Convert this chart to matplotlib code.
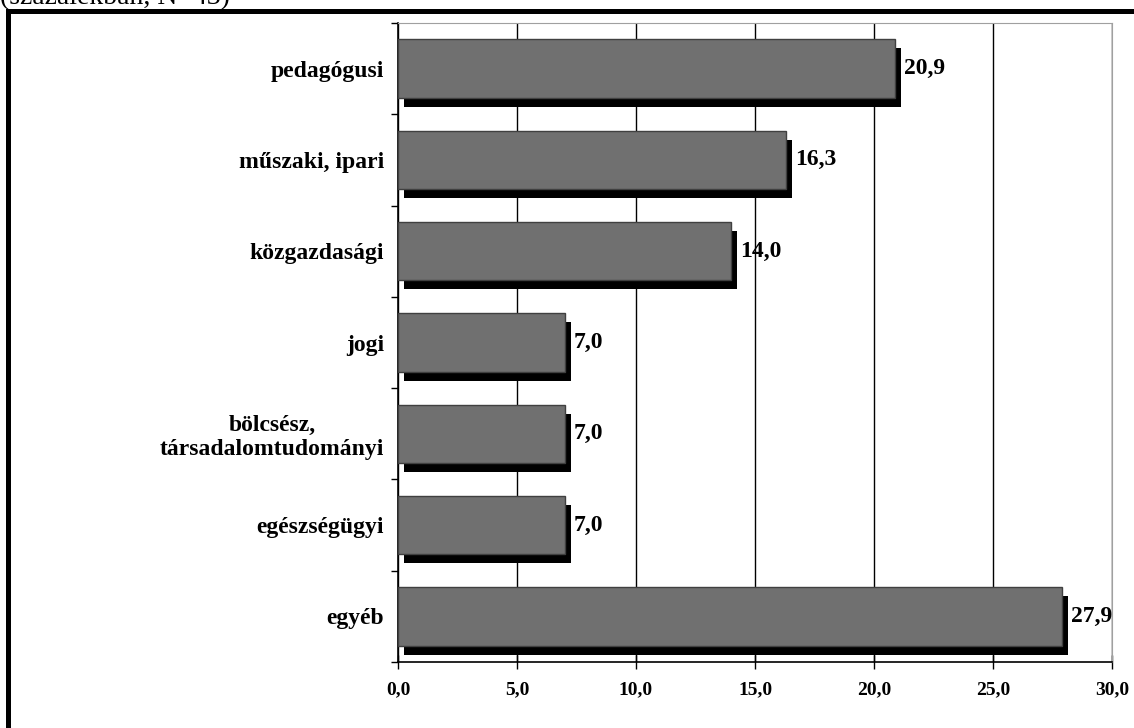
import matplotlib
matplotlib.use("Agg")
import matplotlib.pyplot as plt
import matplotlib.patheffects as pe
from matplotlib.patches import Rectangle
import numpy as np

categories = ["pedagógusi", "műszaki, ipari", "közgazdasági", "jogi",
              "bölcsész,\ntársadalomtudományi", "egészségügyi", "egyéb"]
values = [20.9, 16.3, 14.0, 7.0, 7.0, 7.0, 27.9]
xticks = [0, 5, 10, 15, 20, 25, 30]
xtick_labels = ["0,0", "5,0", "10,0", "15,0", "20,0", "25,0", "30,0"]
title = "(százalékban, N=43)"

serif = ["Liberation Serif", "DejaVu Serif"]

fig = plt.figure(figsize=(11.34, 7.28), dpi=100)
ax = fig.add_axes([398 / 1134, 1 - 662 / 728, (1112 - 398) / 1134, (662 - 23) / 728])

# outer frame, runs off the right and bottom edges
fig.patches.append(Rectangle((7.5 / 1134, -0.1), 1.2, 1 - 11.5 / 728 + 0.1,
                             transform=fig.transFigure, fill=False,
                             edgecolor="black", linewidth=3.6, zorder=0))
# title sits mostly above the top edge, as in the original crop
fig.text(0, 1 - 4 / 728, title, family=serif, fontsize=20, va="baseline", ha="left")

y = np.arange(len(categories))
bars = ax.barh(y, values, height=0.64, color="#707070", edgecolor="#404040",
               linewidth=1, zorder=3)
for b in bars:
    b.set_path_effects([pe.SimplePatchShadow(offset=(4.3, -6.5), shadow_rgbFace="black",
                                             alpha=1.0), pe.Normal()])

for yi, v in zip(y, values):
    ax.annotate(f"{v:.1f}".replace(".", ","), (v, yi), xytext=(6.5, 0),
                textcoords="offset points", va="center", ha="left",
                family=serif, fontweight="bold", fontsize=17, zorder=4)

ax.set_xlim(0, 30)
ax.set_ylim(len(categories) - 0.5, -0.5)
ax.set_xticks(xticks)
ax.set_xticklabels(xtick_labels, family=serif, fontweight="bold", fontsize=14)
ax.set_yticks(y)
ax.set_yticklabels(categories, family=serif, fontweight="bold", fontsize=17,
                   multialignment="center")
ax.set_yticks(np.arange(len(categories) + 1) - 0.5, minor=True)
ax.tick_params(axis="y", which="major", length=0, pad=10)
ax.tick_params(axis="y", which="minor", length=5, width=1, direction="out")
ax.tick_params(axis="x", which="major", length=10, width=1, direction="inout", pad=9)

ax.grid(axis="x", color="black", linewidth=1, zorder=1)
ax.set_axisbelow(True)
for s in ["top", "right"]:
    ax.spines[s].set_color("#a0a0a0")
for s in ["left", "bottom"]:
    ax.spines[s].set_color("black")
    ax.spines[s].set_linewidth(1.2)

fig.savefig("out.png", dpi=100)
